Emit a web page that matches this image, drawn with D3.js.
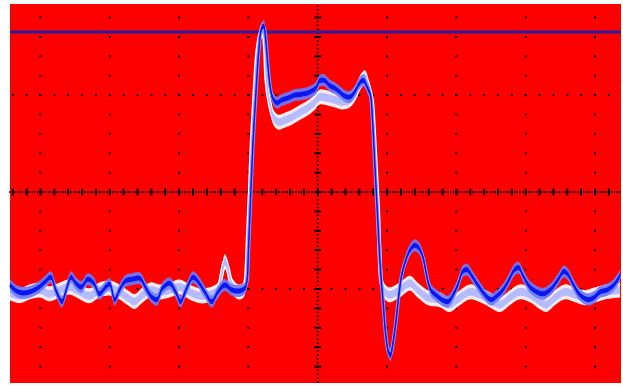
<!DOCTYPE html>
<html><head><meta charset="utf-8">
<script src="https://cdn.jsdelivr.net/npm/d3@7/dist/d3.min.js"></script>
<style>html,body{margin:0;padding:0;background:#fff;}svg{display:block;}</style>
</head><body>
<svg id="c" width="623" height="387"></svg>
<script>
// Data in screen divisions (time div, volt div)
const blueT = [-4.44,-4.37,-4.27,-4.16,-4.04,-3.94,-3.85,-3.78,-3.69,-3.62,-3.56,-3.49,-3.41,-3.32,-3.23,-3.15,-3.06,-3.00,-2.93,-2.86,-2.78,-2.68,-2.57,-2.48,-2.40,-2.32,-2.24,-2.14,-2.05,-1.98,-1.90,-1.80,-1.72,-1.63,-1.53,-1.44,-1.34,-1.24,-1.13,-1.05,-1.02,-1.00,-0.97,-0.94,-0.89,-0.85,-0.81,-0.78,-0.75,-0.72,-0.69,-0.65,-0.59,-0.52,-0.43,-0.33,-0.23,-0.12,-0.03,0.03,0.10,0.17,0.25,0.32,0.39,0.46,0.53,0.61,0.66,0.72,0.76,0.79,0.82,0.85,0.88,0.91,0.94,0.98,1.02,1.05,1.08,1.13,1.17,1.21,1.27,1.33,1.40,1.46,1.52,1.57,1.63,1.70,1.79,1.88,1.93,2.02,2.09,2.15,2.22,2.31,2.41,2.50,2.57,2.67,2.77,2.84,2.90,2.96,3.06,3.16,3.25,3.35,3.46,3.55,3.61,3.69,3.78,3.90,3.98,4.07,4.17,4.27,4.36];
const blueV = [-0.96,-1.01,-1.04,-1.03,-0.99,-0.93,-0.88,-1.01,-1.13,-0.99,-0.88,-0.94,-0.98,-0.90,-0.94,-1.05,-0.98,-0.95,-1.11,-1.01,-0.92,-0.90,-0.89,-0.99,-1.08,-1.11,-0.99,-0.94,-1.03,-1.13,-1.01,-0.88,-0.93,-1.03,-1.13,-1.03,-0.96,-1.01,-1.02,-0.99,-0.91,-0.60,-0.08,0.43,1.05,1.46,1.69,1.71,1.57,1.31,1.10,0.97,0.92,0.95,0.97,1.00,1.01,1.03,1.07,1.15,1.15,1.10,1.07,1.03,0.99,0.98,1.03,1.13,1.15,1.07,1.00,0.74,0.33,-0.08,-0.49,-0.86,-1.11,-1.47,-1.65,-1.68,-1.58,-1.32,-1.06,-0.86,-0.70,-0.60,-0.55,-0.58,-0.68,-0.86,-1.01,-1.06,-1.11,-1.13,-1.09,-0.96,-0.82,-0.80,-0.86,-0.96,-1.06,-1.11,-1.08,-1.01,-0.89,-0.80,-0.78,-0.86,-0.98,-1.03,-1.05,-1.01,-0.91,-0.82,-0.85,-0.96,-1.06,-1.11,-1.09,-1.03,-1.01,-0.96,-0.86];
const lightT = [-4.44,-4.30,-4.16,-4.01,-3.87,-3.72,-3.58,-3.43,-3.29,-3.15,-3.00,-2.86,-2.74,-2.64,-2.54,-2.42,-2.28,-2.14,-1.99,-1.85,-1.70,-1.56,-1.44,-1.39,-1.34,-1.30,-1.24,-1.15,-1.07,-1.04,-1.01,-0.98,-0.95,-0.91,-0.87,-0.82,-0.79,-0.76,-0.74,-0.69,-0.63,-0.56,-0.48,-0.38,-0.26,-0.14,-0.04,0.03,0.14,0.25,0.35,0.46,0.55,0.63,0.68,0.74,0.78,0.81,0.84,0.87,0.89,0.92,0.97,1.04,1.18,1.33,1.44,1.59,1.76,1.90,2.05,2.19,2.34,2.48,2.63,2.77,2.91,3.06,3.20,3.30,3.42,3.56,3.71,3.85,4.00,4.14,4.36];
const lightV = [-1.04,-1.07,-1.03,-1.01,-1.05,-1.01,-0.98,-1.03,-1.07,-1.01,-0.99,-1.03,-1.09,-1.13,-1.07,-1.01,-1.03,-1.01,-0.98,-1.03,-1.07,-1.06,-1.01,-0.86,-0.72,-0.78,-0.96,-1.03,-1.01,-0.91,-0.49,0.02,0.54,1.05,1.46,1.65,1.67,1.46,1.15,0.90,0.76,0.72,0.74,0.77,0.82,0.87,0.93,0.98,0.97,0.95,0.93,0.95,1.03,1.15,1.18,1.07,0.95,0.64,0.23,-0.19,-0.60,-0.94,-1.03,-1.06,-1.01,-0.94,-1.01,-1.09,-1.11,-1.16,-1.09,-1.03,-1.06,-1.11,-1.16,-1.09,-1.03,-1.06,-1.13,-1.16,-1.09,-1.03,-1.06,-1.09,-1.06,-1.03,-1.01];
const markerLevel = 1.65;
const xDivs = [-4,-3,-2,-1,0,1,2,3,4];
const yDivs = [-1,0,1];

const svg = d3.select("#c");
const x = d3.scaleLinear().domain([-4.44, 4.36]).range([10, 620]);
const y = d3.scaleLinear().domain([1.94, -1.97]).range([4, 383]);

svg.append("rect").attr("x",10).attr("y",4).attr("width",611).attr("height",379).attr("fill","#ff0000");

const g = svg.append("g");
const dot = (cx, cy, w, h) => g.append("rect").attr("x", cx - w/2).attr("y", cy - h/2).attr("width", w).attr("height", h).attr("fill", "#000");

const vSteps = d3.range(Math.ceil(-1.97/0.2), Math.floor(1.94/0.2)+1).map(k => k*0.2);
const hSteps = d3.range(Math.ceil(-4.44/0.2), Math.floor(4.36/0.2)+1).map(k => k*0.2);
xDivs.forEach(d => {
  if (d === 0) return;
  vSteps.forEach(v => dot(x(d), y(v), 2, 2));
});
yDivs.forEach(d => {
  if (d === 0) return;
  hSteps.forEach(t => dot(x(t), y(d), 2, 2));
});
d3.range(Math.ceil(-1.97/0.04), Math.floor(1.94/0.04)+1).forEach(k => dot(x(0), y(k*0.04), 2, 1.5));
vSteps.forEach(v => dot(x(0), y(v), 7, 2));
d3.range(Math.ceil(-4.44/0.04), Math.floor(4.36/0.04)+1).forEach(k => dot(x(k*0.04), y(0), 1.5, 2));
hSteps.forEach(t => dot(x(t), y(0), 2, 7));

svg.append("line").attr("x1",10).attr("x2",621).attr("y1",y(markerLevel)).attr("y2",y(markerLevel))
  .attr("stroke","#2a1c9c").attr("stroke-width",3);

const curve = d3.curveCatmullRom.alpha(0.5);
const line = d3.line().x(d => x(d[0])).y(d => y(d[1])).curve(curve);
const band = s => d3.area().x(d => x(d[0])).y0(d => y(d[1]) - s).y1(d => y(d[1]) + s).curve(curve);
const lightData = d3.zip(lightT, lightV);
const blueData = d3.zip(blueT, blueV);

// light (persistence) trace: vertical smear
svg.append("path").attr("d", band(7.5)(lightData)).attr("fill","#ffffff").attr("opacity",0.92);
svg.append("path").attr("d", line(lightData)).attr("fill","none").attr("stroke","#ffffff").attr("stroke-width",4);
svg.append("path").attr("d", band(4)(lightData)).attr("fill","#b4bcff");
svg.append("path").attr("d", line(lightData)).attr("fill","none").attr("stroke","#b4bcff").attr("stroke-width",1.5);
// blue trace
svg.append("path").attr("d", band(6)(blueData)).attr("fill","#6a7aff").attr("opacity",0.9);
svg.append("path").attr("d", line(blueData)).attr("fill","none").attr("stroke","#8a96ff").attr("stroke-width",3.5);
svg.append("path").attr("d", band(2.5)(blueData)).attr("fill","#0a18f0");
svg.append("path").attr("d", line(blueData)).attr("fill","none").attr("stroke","#0a18f0").attr("stroke-width",1.5);
</script>
</body></html>
